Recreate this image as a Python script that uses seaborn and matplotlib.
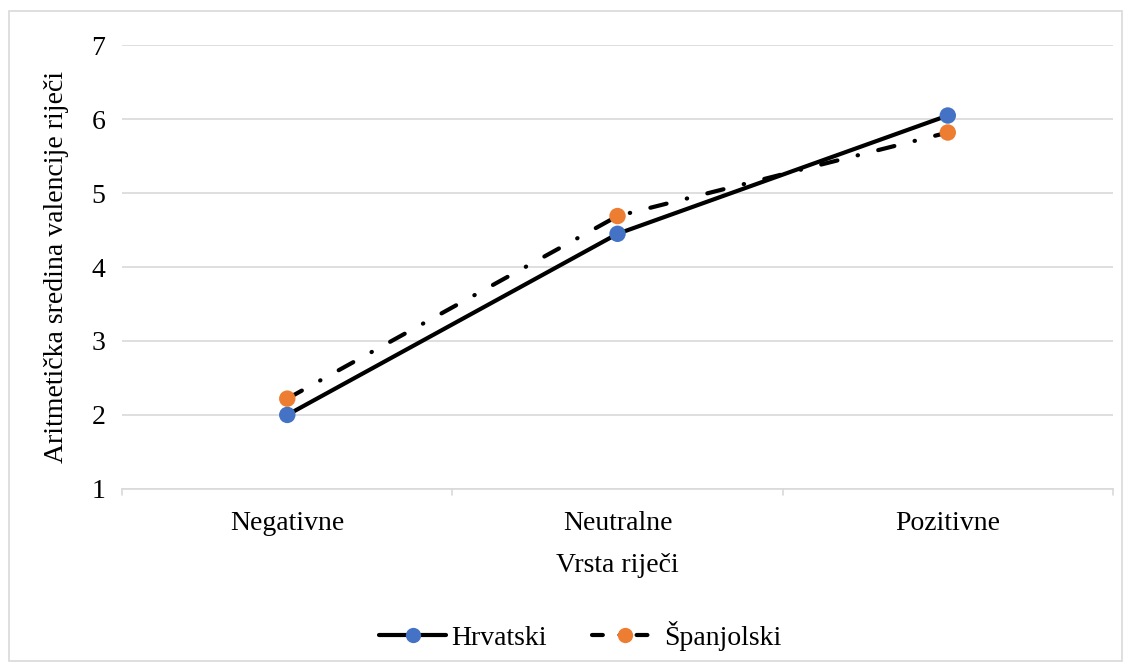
""" Mean word valence by word type, Croatian vs Spanish. """

import pandas as pd
import seaborn as sns
import matplotlib.pyplot as plt
from matplotlib.lines import Line2D

# Data
categories = ["Negativne", "Neutralne", "Pozitivne"]
hrvatski = [2.00, 4.45, 6.05]
spanjolski = [2.22, 4.69, 5.82]
series_names = ["Hrvatski", "Španjolski"]
marker_colors = ["#4472C4", "#ED7D31"]


def main() -> None:
    """ Main function. """
    sns.set_style("white")
    plt.rcParams["font.family"] = ["Liberation Serif", "DejaVu Serif"]
    plt.rcParams["text.color"] = "black"
    plt.rcParams["axes.labelcolor"] = "black"
    plt.rcParams["xtick.color"] = "black"
    plt.rcParams["ytick.color"] = "black"

    df = pd.DataFrame({
        "Vrsta": categories * 2,
        "Vrijednost": hrvatski + spanjolski,
        "Jezik": [series_names[0]] * 3 + [series_names[1]] * 3,
    })
    df["x"] = df["Vrsta"].map({c: i for i, c in enumerate(categories)})

    fig = plt.figure(figsize=(11.31, 6.66), dpi=100)
    ax = fig.add_axes([0.108, 0.266, 0.876, 0.666])

    dash_dot = (4, 5, 0.1, 5)
    dash_styles = {series_names[0]: "", series_names[1]: dash_dot}
    sns.lineplot(data=df, x="x", y="Vrijednost", style="Jezik",
                 dashes=dash_styles, color="black", linewidth=3,
                 dash_capstyle="round", solid_capstyle="round",
                 legend=False, ax=ax, zorder=2)
    sns.scatterplot(data=df, x="x", y="Vrijednost", hue="Jezik",
                    palette=marker_colors, s=140, edgecolor="none",
                    legend=False, ax=ax, zorder=3)

    ax.set_xlim(-0.5, 2.5)
    ax.set_ylim(1, 7)
    ax.set_yticks(range(1, 8))
    ax.set_xticks(range(3))
    ax.set_xticklabels(categories)
    ax.tick_params(axis="x", labelsize=20, length=0, pad=16)
    ax.tick_params(axis="y", labelsize=20, length=0, pad=12)
    ax.yaxis.grid(True, color="#D9D9D9", linewidth=1.2)
    ax.set_axisbelow(True)

    # Excel-style category boundary ticks
    for xb in [-0.5, 0.5, 1.5, 2.5]:
        ax.plot([xb, xb], [1, 0.92], color="#D9D9D9", linewidth=1.2,
                clip_on=False, zorder=1)

    for side in ["top", "right", "left"]:
        ax.spines[side].set_visible(False)
    ax.spines["bottom"].set_color("#D9D9D9")
    ax.spines["bottom"].set_linewidth(1.2)

    ax.set_xlabel("Vrsta riječi", fontsize=20, labelpad=12)
    ax.set_ylabel("Aritmetička sredina valencije riječi", fontsize=20,
                  labelpad=16)

    handles = [
        Line2D([], [], color="black", linewidth=3, marker="o",
               markersize=11, markerfacecolor=marker_colors[0],
               markeredgecolor="none"),
        Line2D([], [], color="black", linewidth=3, linestyle=(0, (2.6, 4, 0.1, 4)),
               dash_capstyle="round", marker="o", markersize=11,
               markerfacecolor=marker_colors[1], markeredgecolor="none"),
    ]
    fig.legend(handles, series_names, loc="center", ncol=2,
               bbox_to_anchor=(0.513, 0.045), frameon=False, fontsize=20,
               handlelength=2.4, columnspacing=1.6, handletextpad=0.2)

    # Outer chart border
    fig.patches.append(plt.Rectangle((0.008, 0.008), 0.984, 0.975,
                                     transform=fig.transFigure, fill=False,
                                     edgecolor="#D9D9D9", linewidth=1.2))

    fig.savefig("out.png", dpi=100)


if __name__ == "__main__":
    main()
